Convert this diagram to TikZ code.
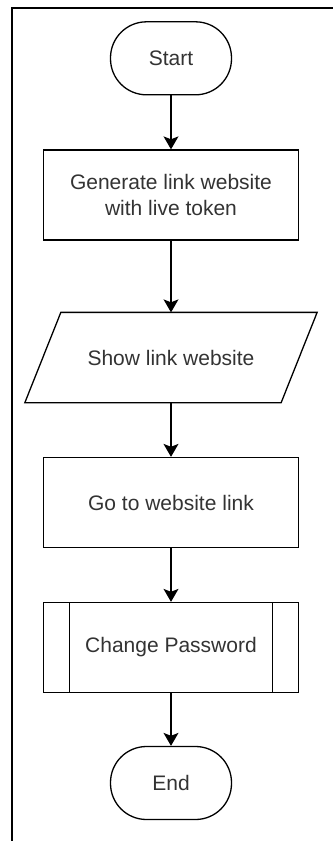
\documentclass[tikz,border=0pt]{standalone}
\usepackage{fontspec}
\setmainfont{Liberation Sans}
\usetikzlibrary{arrows.meta}

\tikzset{
	base/.style={draw, line width=0.65pt, text=black!80, align=center,
		font=\fontsize{10.5}{13}\selectfont},
	terminal/.style={base, rectangle, rounded corners=18pt,
		minimum width=60.5pt, minimum height=36.5pt},
	procbox/.style={base, rectangle, minimum width=127.5pt, minimum height=45pt},
	% parallelogram drawn round a plain box
	iobox/.style={base, draw=none, rectangle, minimum width=127.5pt, minimum height=44.5pt,
		append after command={\pgfextra{
				\draw[line width=0.65pt] ([xshift=-9pt]\tikzlastnode.south west) -- ([xshift=9pt]\tikzlastnode.north west)
				-- ([xshift=9pt]\tikzlastnode.north east) -- ([xshift=-9pt]\tikzlastnode.south east) -- cycle;
	}}},
	subproc/.style={procbox, path picture={
			\draw[line width=0.65pt] ([xshift=13pt]path picture bounding box.north west) -- ([xshift=13pt]path picture bounding box.south west);
			\draw[line width=0.65pt] ([xshift=-13pt]path picture bounding box.north east) -- ([xshift=-13pt]path picture bounding box.south east);
	}},
	flow/.style={line width=0.65pt, -{Stealth[length=6.5pt,width=7.5pt,inset=1.5pt]}}
}

\begin{document}
\begin{tikzpicture}[x=0.5pt, y=-0.5pt]
	\useasboundingbox (0,0) rectangle (333,841);
	% Frame
	\draw[line width=1pt] (11.5,841) -- (11.5,7.5) -- (333,7.5);
	
	% Steps
	\node[terminal] (start) at (171,58.3) {Start};
	\node[procbox] (gen) at (171,195) {Generate link website\\with live token};
	\node[iobox] (show) at (171,357.5) {Show link website};
	\node[procbox] (go) at (171,502.5) {Go to website link};
	\node[subproc] (change) at (171,647.5) {Change Password};
	\node[terminal] (stop) at (171,783) {End};
	
	% Arrows
	\draw[flow] (start) -- (gen);
	\draw[flow] (gen) -- (show);
	\draw[flow] (show) -- (go);
	\draw[flow] (go) -- (change);
	\draw[flow] (change) -- (stop);
\end{tikzpicture}
\end{document}
